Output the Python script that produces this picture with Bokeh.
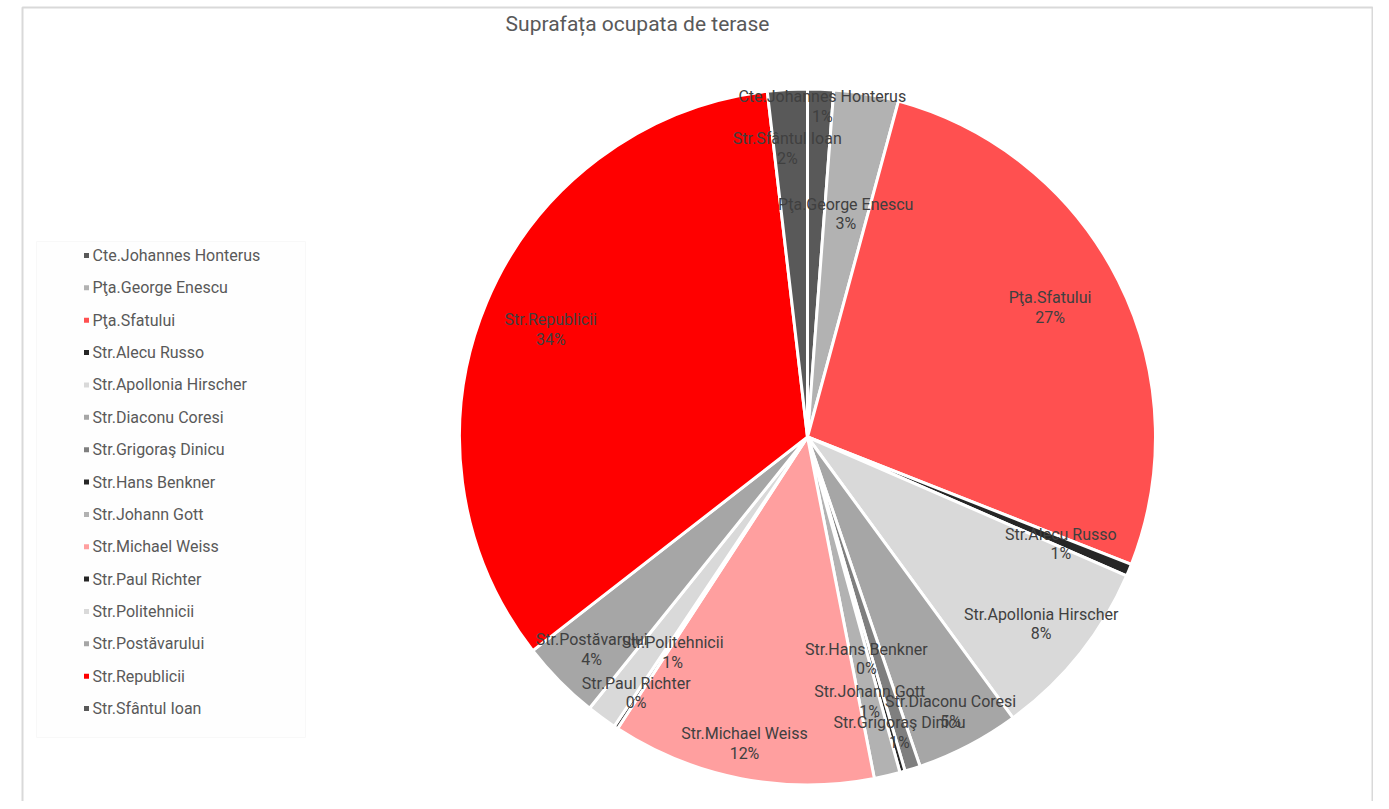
import math
from bokeh.plotting import figure
from bokeh.models import Range1d, ColumnDataSource
from bokeh.core.properties import value
from bokeh.embed import file_html
from bokeh.resources import INLINE

# ---- data ----
categories = [
    "Cte.Johannes Honterus", "Pţa.George Enescu", "Pţa.Sfatului", "Str.Alecu Russo",
    "Str.Apollonia Hirscher", "Str.Diaconu Coresi", "Str.Grigoraş Dinicu", "Str.Hans Benkner",
    "Str.Johann Gott", "Str.Michael Weiss", "Str.Paul Richter", "Str.Politehnicii",
    "Str.Postăvarului", "Str.Republicii", "Str.Sfântul Ioan",
]
areas = [60, 150, 1335, 28, 420, 240, 36, 12, 60, 612, 9, 70, 185, 1680, 92]
colors = [
    "#595959", "#B2B2B2", "#FF5050", "#262626", "#D9D9D9", "#A6A6A6", "#7F7F7F", "#262626",
    "#B2B2B2", "#FF9F9F", "#262626", "#D9D9D9", "#A6A6A6", "#FF0000", "#595959",
]
title = "Suprafața ocupata de terase"

# ---- layout (label placement as fraction of radius, angular nudge in degrees) ----
label_r = [0.95, 0.65, 0.79, 0.79, 0.86, 0.89, 0.89, 0.66, 0.78, 0.90, 0.885, 0.73, 0.87, 0.80, 0.83]
label_da = [0.4, 0, -1.4, 0.4, 0, 0, 0.3, 1.0, 0, 0.6, 0.4, -4.2, 0, 0, -0.7]

W, H = 1373, 801
CX, CY, R = 807, H - 436.5, 348

total = float(sum(areas))
pcts = [a / total * 100 for a in areas]
starts, ends, mids = [], [], []
cum = 0.0
for a in areas:
    s = cum / total * 360
    cum += a
    e = cum / total * 360
    starts.append(s)
    ends.append(e)
    mids.append((s + e) / 2)

src = ColumnDataSource(dict(
    start=[math.radians(90 - s) for s in starts],
    end=[math.radians(90 - e) for e in ends],
    color=colors,
))

p = figure(width=W, height=H, output_backend="svg", toolbar_location=None,
           x_axis_type=None, y_axis_type=None,
           x_range=Range1d(0, W), y_range=Range1d(0, H), min_border=0)
p.grid.visible = False
p.outline_line_color = None
p.background_fill_color = "white"
p.border_fill_color = "white"

# chart frame
p.quad(left=[22], right=[1372], top=[H - 7], bottom=[-10], fill_color=None,
       line_color="#D9D9D9", line_width=2)
# legend box (very faint)
p.quad(left=[36], right=[305], top=[H - 241], bottom=[H - 737], fill_color="#FEFEFE",
       line_color="#F8F8F8", line_width=1)

p.wedge(x=CX, y=CY, radius=R, start_angle="start", end_angle="end", direction="clock",
        fill_color="color", line_color="white", line_width=3, source=src)

# data labels
lx, ly, lt = [], [], []
for i, name in enumerate(categories):
    th = math.radians(mids[i] + label_da[i])
    r = R * label_r[i]
    lx.append(CX + r * math.sin(th))
    ly.append(CY + r * math.cos(th))
    lt.append(f"{name}\n{int(pcts[i] + 0.5)}%")
p.text(x=lx, y=ly, text=lt, text_align="center", text_baseline="middle",
       text_font=value("Roboto"), text_font_size="16px", text_color="#404040",
       text_line_height=1.04)

# legend
gx = [86] * len(categories)
gy = [H - 255 - 32.36 * i for i in range(len(categories))]
p.scatter(x=gx, y=gy, marker="square", size=5, fill_color=colors, line_color=None)
p.text(x=[92] * len(categories), y=gy, text=categories, text_align="left",
       text_baseline="middle", text_font=value("Roboto"), text_font_size="16px",
       text_color="#595959")

# title
p.text(x=[637], y=[H - 23], text=[title], text_align="center", text_baseline="middle",
       text_font=value("Roboto"), text_font_size="21px", text_color="#595959")

open("out.html", "w").write(file_html(p, INLINE))
